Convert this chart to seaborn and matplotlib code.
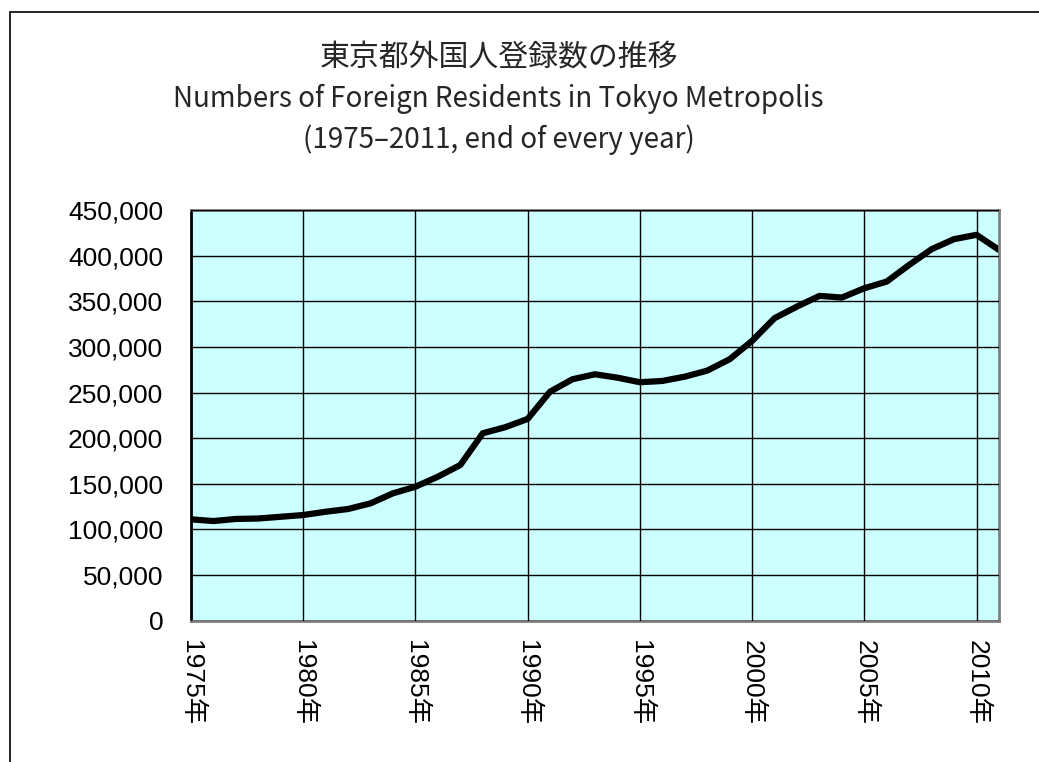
import matplotlib
matplotlib.use("Agg")
import matplotlib.pyplot as plt
from matplotlib.ticker import FuncFormatter, MultipleLocator
from matplotlib.lines import Line2D
import seaborn as sns
import pandas as pd

# Foreign residents in Tokyo, end of each year
years = list(range(1975, 2012))
residents = [111100, 109200, 111500, 112000, 113900, 115800, 119400, 122400,
             128600, 139600, 146800, 157800, 170600, 205400, 212000, 221100,
             251000, 264600, 270000, 266300, 261300, 262700, 267400, 274000,
             286500, 306600, 331500, 344200, 355900, 354100, 364300, 371600,
             389900, 407100, 418100, 422800, 406300]
tick_years = [1975, 1980, 1985, 1990, 1995, 2000, 2005, 2010]

title_jp = "東京都外国人登録数の推移"
title_en = "Numbers of Foreign Residents in Tokyo Metropolis"
title_sub = "(1975\u20132011, end of every year)"

df = pd.DataFrame({"year": years, "residents": residents})

sns.set_style("ticks")
plt.rcParams['font.family'] = ['Liberation Sans', 'Noto Sans CJK JP', 'DejaVu Sans']

fig = plt.figure(figsize=(10.39, 7.62), dpi=100)
ax = fig.add_axes([0.1838, 0.1854, 0.9615 - 0.1838, 0.7244 - 0.1854])
ax.set_facecolor("#CCFFFF")

sns.lineplot(data=df, x="year", y="residents", ax=ax, color="black", linewidth=4.5)

ax.set_xlim(1975, 2011)
ax.set_ylim(0, 450000)
ax.yaxis.set_major_locator(MultipleLocator(50000))
ax.yaxis.set_major_formatter(FuncFormatter(lambda v, p: f"{v:,.0f}"))
ax.set_xticks(tick_years)
ax.set_xticklabels([f"{y}年" for y in tick_years], rotation=-90, va="top", ha="center")
ax.tick_params(axis="both", labelsize=19, length=0, colors="black")
ax.tick_params(axis="x", pad=14)
ax.tick_params(axis="y", pad=20)
ax.grid(True, color="black", linewidth=1.0)
ax.set_axisbelow(False)
ax.set_xlabel("")
ax.set_ylabel("")
for side in ["top", "right", "bottom"]:
    ax.spines[side].set_color("#808080")
    ax.spines[side].set_linewidth(2)
ax.spines["left"].set_color("black")
ax.spines["left"].set_linewidth(2)

title_font = ['Noto Sans CJK JP', 'DejaVu Sans']
fig.text(0.48, 1 - 58 / 762, title_jp, ha="center", va="center", fontsize=21.5, family=title_font)
fig.text(0.48, 1 - 99 / 762, title_en, ha="center", va="center", fontsize=20, family=title_font)
fig.text(0.48, 1 - 140 / 762, title_sub, ha="center", va="center", fontsize=20, family=title_font)

# outer frame lines (left and top)
fig.add_artist(Line2D([10 / 1039, 10 / 1039], [0, 1 - 12 / 762], transform=fig.transFigure, color="black", linewidth=1.2))
fig.add_artist(Line2D([10 / 1039, 1], [1 - 12 / 762, 1 - 12 / 762], transform=fig.transFigure, color="black", linewidth=1.2))

fig.savefig("out.png", dpi=100)
